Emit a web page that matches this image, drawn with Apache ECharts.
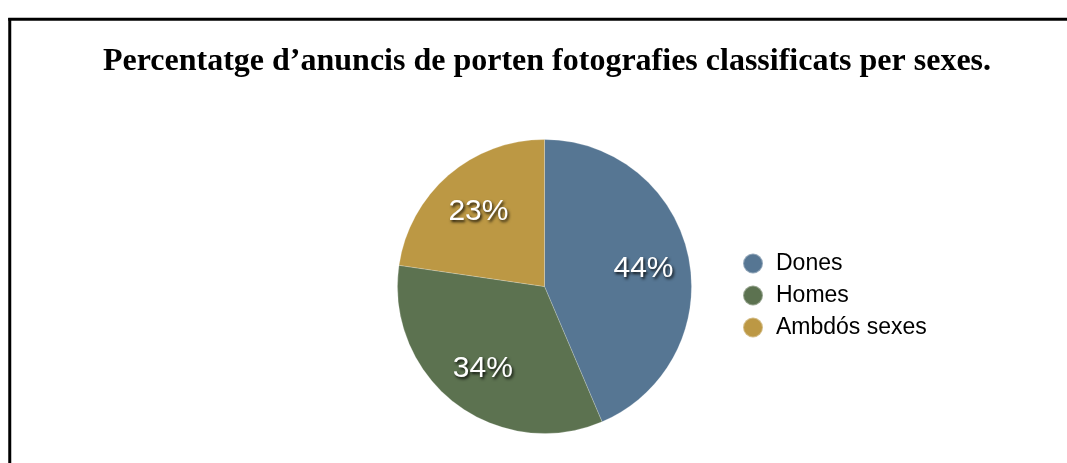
<!DOCTYPE html>
<html>
<head>
<meta charset="utf-8">
<script src="https://cdn.jsdelivr.net/npm/echarts@6/dist/echarts.min.js"></script>
<style>
html,body{margin:0;padding:0;background:#fff;}
#c{width:1067px;height:463px;}
</style>
</head>
<body>
<div id="c"></div>
<script>
const titleText = 'Percentatge d\u2019anuncis de porten fotografies classificats per sexes.';
const categories = ['Dones', 'Homes', 'Ambdós sexes'];
const values = [43.6, 33.7, 22.7];
const colors = ['#567693', '#5c7250', '#bc9844'];

const chart = echarts.init(document.getElementById('c'), null, {renderer: 'canvas'});
const pieData = categories.map((n, i) => ({name: n, value: values[i], itemStyle: {color: colors[i]}}));
const labelData = categories.map((n, i) => ({name: n, value: values[i]}));

chart.setOption({
  backgroundColor: '#fff',
  animation: false,
  title: {
    text: titleText,
    left: 547,
    textAlign: 'center',
    top: 46,
    padding: 0,
    textStyle: {fontFamily: '"Liberation Serif", "Times New Roman", serif', fontWeight: 'bold', fontSize: 32, color: '#000'}
  },
  legend: {
    orient: 'vertical',
    left: 737,
    top: 247,
    icon: 'circle',
    itemWidth: 20,
    itemHeight: 20,
    itemGap: 9,
    data: categories,
    selectedMode: false,
    textStyle: {fontFamily: '"Liberation Sans", Helvetica, Arial, sans-serif', fontSize: 23, color: '#000', padding: [0, 0, 0, 8]}
  },
  graphic: [
    {type: 'line', shape: {x1: 9.75, y1: 18, x2: 9.75, y2: 463}, style: {stroke: '#000', lineWidth: 3}},
    {type: 'line', shape: {x1: 8.25, y1: 19.25, x2: 1067, y2: 19.25}, style: {stroke: '#000', lineWidth: 3}}
  ],
  series: [
    {
      type: 'pie',
      center: [544.5, 286.5],
      radius: [0, 147],
      startAngle: 90,
      clockwise: true,
      label: {show: false},
      labelLine: {show: false},
      itemStyle: {borderColor: 'rgba(255,255,255,0.35)', borderWidth: 0.6},
      emphasis: {disabled: true},
      data: pieData
    },
    {
      type: 'pie',
      center: [544.5, 286.5],
      radius: [49, 147],
      startAngle: 90,
      clockwise: true,
      silent: true,
      itemStyle: {color: 'rgba(0,0,0,0)'},
      labelLine: {show: false},
      label: {
        show: true,
        position: 'inside',
        offset: [0, 2],
        formatter: p => Math.round(p.value) + '%',
        fontFamily: '"Liberation Sans", Helvetica, Arial, sans-serif',
        fontSize: 30,
        color: '#fff',
        textShadowColor: 'rgba(0,0,0,0.85)',
        textShadowBlur: 3,
        textShadowOffsetX: 1.5,
        textShadowOffsetY: 2
      },
      emphasis: {disabled: true},
      data: labelData
    }
  ]
});
</script>
</body>
</html>
